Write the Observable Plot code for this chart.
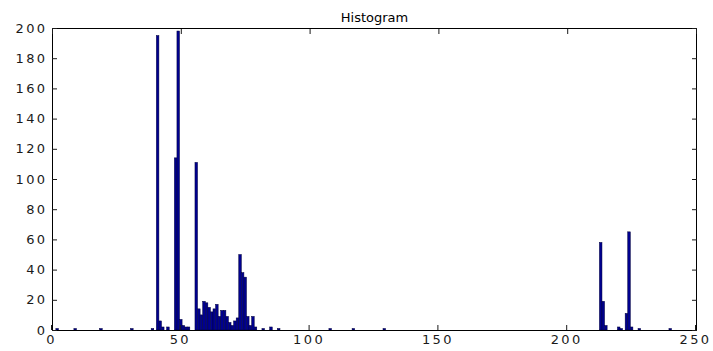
<!DOCTYPE html>
<html>
<head>
<meta charset="utf-8">
<script src="https://cdn.jsdelivr.net/npm/d3@7"></script>
<script src="https://cdn.jsdelivr.net/npm/@observablehq/plot@0.6"></script>
<style>
  html, body { margin: 0; padding: 0; background: #fff; }
  #chart svg { display: block; }
  #chart g[aria-label="x-axis tick label"] text,
  #chart g[aria-label="y-axis tick label"] text { letter-spacing: 2.4px; }
  #chart g[aria-label="title"] text { letter-spacing: 0.8px; }
</style>
</head>
<body>
<div id="chart"></div>
<script>
// Histogram of grey levels: one bin per integer level (only non-empty bins listed)
const bins = [
  2, 9, 19, 31, 39,
  41, 42, 43, 45, 48, 49, 50, 51, 52, 53,
  56, 57, 58, 59, 60, 61, 62, 63, 64, 65, 66, 67, 68, 69, 70, 71, 72,
  73, 74, 75, 76, 77, 78, 79,
  82, 85, 88, 108, 117, 129,
  213, 214, 215, 220, 221, 223, 224, 225, 228, 240
];
const counts = [
  1, 1, 1, 1, 1,
  195, 6, 2, 2, 114, 198, 7, 3, 2, 2,
  111, 14, 10, 19, 18, 15, 12, 14, 17, 9, 13, 13, 9, 5, 3, 6, 8,
  50, 38, 35, 9, 3, 9, 2,
  1, 2, 1, 1, 1, 1,
  58, 19, 3, 2, 1, 11, 65, 2, 1, 1
];
const xTicks = [0, 50, 100, 150, 200, 250];
const yTicks = [0, 20, 40, 60, 80, 100, 120, 140, 160, 180, 200];
const titleText = ["Histogram"];

const rows = bins.map((b, i) => ({bin: b, count: counts[i]}));

const font = "'DejaVu Sans', Verdana, sans-serif";

const chart = Plot.plot({
  width: 713,
  height: 351,
  marginLeft: 52,
  marginRight: 17,
  marginTop: 28,
  marginBottom: 21,
  style: {fontFamily: font, fontSize: "13px", color: "#1a1a1a", background: "#fff"},
  x: {domain: [0, 250], label: null},
  y: {domain: [0, 200], label: null},
  marks: [
    Plot.rectY(rows, {
      x1: d => d.bin - 0.5,
      x2: d => d.bin + 0.5,
      y: "count",
      fill: "#00008f",
      stroke: "#00003a",
      strokeWidth: 0.5
    }),
    Plot.frame({stroke: "#000", strokeWidth: 1}),
    // inward ticks on all four sides, labels only left and bottom
    Plot.axisX(xTicks, {anchor: "bottom", tickSize: -5, tickPadding: 9, label: null, fontSize: 13, dx: -1}),
    Plot.axisX(xTicks, {anchor: "top", tickSize: -5, tickFormat: () => "", label: null}),
    Plot.axisY(yTicks, {anchor: "left", tickSize: -5, tickPadding: 10, label: null, fontSize: 13}),
    Plot.axisY(yTicks, {anchor: "right", tickSize: -5, tickFormat: () => "", label: null}),
    Plot.text(titleText, {
      frameAnchor: "top",
      dy: -7,
      lineAnchor: "bottom",
      fontSize: 13,
      fill: "#000",
      ariaLabel: "title"
    })
  ]
});

document.getElementById("chart").appendChild(chart);
</script>
</body>
</html>
